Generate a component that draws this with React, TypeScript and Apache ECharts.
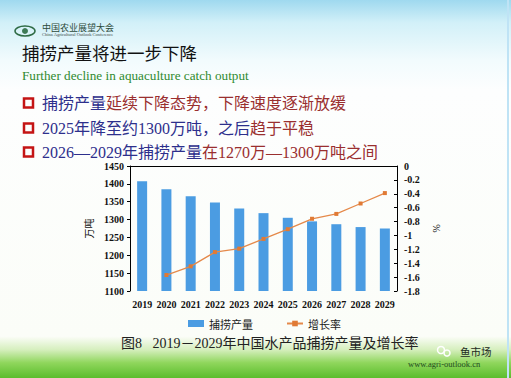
import React, { useEffect, useRef } from "react";
import * as echarts from "echarts";

const years = ["2019", "2020", "2021", "2022", "2023", "2024", "2025", "2026", "2027", "2028", "2029"];
const catchOutput = [1407, 1385, 1365, 1348, 1331, 1318, 1305, 1295, 1287, 1279, 1275];
const growthRate = [null, -1.57, -1.445, -1.24, -1.19, -1.05, -0.91, -0.76, -0.69, -0.54, -0.39];
const seriesNames = ["捕捞产量", "增长率"];

const serif = "'Liberation Serif', 'Times New Roman', 'Noto Sans CJK SC', serif";
const cjk = "'Noto Sans CJK SC', sans-serif";

export default function App() {
  const ref = useRef<HTMLDivElement>(null);
  useEffect(() => {
    const chart = echarts.init(ref.current!, null, { renderer: "svg" });
    const blue = "#2d2f8c";
    const red = "#9a2f2f";
    const rich = {
      b: { fill: blue, fontSize: 16, fontFamily: serif },
      r: { fill: red, fontSize: 16, fontFamily: serif },
    };
    const bullets = [
      "{b|捕捞产量}{r|延续下降态势，下降速度逐渐放缓}",
      "{b|2025年降至约1300万吨，之后}{r|趋于平稳}",
      "{b|2026—2029年捕捞产量}{r|在1270万—1300万吨之间}",
    ];
    const bulletY = [103, 128, 152];
    const graphics: any[] = [
      {
        type: "rect",
        z: -10,
        silent: true,
        shape: { x: 0, y: 0, width: 511, height: 378 },
        style: {
          fill: new echarts.graphic.LinearGradient(0, 0, 0, 1, [
            { offset: 0, color: "#9fd9ef" },
            { offset: 0.06, color: "#d2f0f8" },
            { offset: 0.16, color: "#f2fbfd" },
            { offset: 0.24, color: "#fdfefe" },
            { offset: 0.89, color: "#fbfdf8" },
            { offset: 0.925, color: "#d6efbe" },
            { offset: 0.96, color: "#8fd65c" },
            { offset: 1, color: "#5bbd2c" },
          ]),
        },
      },
      {
        type: "rect",
        z: -9,
        silent: true,
        shape: { x: 507, y: 0, width: 2, height: 378 },
        style: { fill: "#bfe3f5" },
      },
      // logo
      {
        type: "ellipse",
        shape: { cx: 25, cy: 31, rx: 10, ry: 5 },
        style: { fill: "none", stroke: "#2f6b45", lineWidth: 1.5 },
      },
      {
        type: "circle",
        shape: { cx: 25, cy: 31, r: 3 },
        style: { fill: "#3e7a55" },
      },
      {
        type: "text",
        x: 42,
        y: 27,
        style: { text: "中国农业展望大会", fontSize: 9, fill: "#2c4a3a", fontFamily: cjk, verticalAlign: "middle" },
      },
      {
        type: "text",
        x: 42,
        y: 34.5,
        style: { text: "China Agricultural Outlook Conference", fontSize: 4.5, fill: "#3a4a44", fontFamily: serif, verticalAlign: "middle" },
      },
      {
        type: "text",
        x: 22,
        y: 52,
        style: { text: "捕捞产量将进一步下降", fontSize: 17.5, fill: "#111", fontFamily: cjk, verticalAlign: "middle" },
      },
      {
        type: "text",
        x: 22,
        y: 75,
        style: { text: "Further decline in aquaculture catch output", fontSize: 13.2, fill: "#2f8a2f", fontFamily: serif, verticalAlign: "middle" },
      },
      ...bullets.flatMap((t, i) => [
        {
          type: "rect",
          shape: { x: 24, y: bulletY[i] - 4.5, width: 9, height: 9 },
          style: { fill: "none", stroke: "#c41414", lineWidth: 2.5 },
        },
        {
          type: "text",
          x: 42,
          y: bulletY[i],
          style: { text: t, rich, fontSize: 16, fontFamily: serif, verticalAlign: "middle" },
        },
      ]),
      {
        type: "text",
        x: 121,
        y: 343,
        style: { text: "图8   2019－2029年中国水产品捕捞产量及增长率", fontSize: 14, fill: "#222", fontFamily: serif, verticalAlign: "middle" },
      },
      // watermark
      {
        type: "circle",
        shape: { cx: 441, cy: 350, r: 3.5 },
        style: { fill: "none", stroke: "#ffffff", lineWidth: 1.5 },
      },
      {
        type: "circle",
        shape: { cx: 447, cy: 353, r: 3 },
        style: { fill: "none", stroke: "#ffffff", lineWidth: 1.5 },
      },
      {
        type: "text",
        x: 460,
        y: 351,
        style: { text: "鱼市场", fontSize: 10.5, fill: "#1e2a22", fontFamily: cjk, verticalAlign: "middle" },
      },
      {
        type: "text",
        x: 408,
        y: 364,
        style: { text: "www.agri-outlook.cn", fontSize: 8.5, fill: "#1f4a1f", fontFamily: serif, verticalAlign: "middle" },
      },
    ];

    chart.setOption({
      animation: false,
      backgroundColor: "transparent",
      graphic: graphics,
      grid: { left: 130, right: 114, top: 166, bottom: 87 },
      legend: {
        left: 183,
        top: 313,
        itemWidth: 16,
        itemHeight: 7,
        itemGap: 33,
        textStyle: { fontSize: 11, color: "#222", fontFamily: cjk },
        data: [
          { name: seriesNames[0], icon: "rect" },
          { name: seriesNames[1] },
        ],
      },
      xAxis: {
        type: "category",
        data: years,
        axisLine: { lineStyle: { color: "#000", width: 1 } },
        axisTick: { show: false },
        axisLabel: { color: "#111", fontSize: 10, fontWeight: "bold", fontFamily: serif, margin: 8, interval: 0 },
      },
      yAxis: [
        {
          type: "value",
          min: 1100,
          max: 1450,
          interval: 50,
          name: "万吨",
          nameLocation: "middle",
          nameGap: 35,
          nameRotate: 90,
          nameTextStyle: { fontSize: 10, color: "#111", fontFamily: cjk },
          splitLine: { show: false },
          axisLine: { show: true, lineStyle: { color: "#000" } },
          axisTick: { show: true, length: 3, lineStyle: { color: "#000" } },
          axisLabel: {
            color: "#111",
            fontSize: 10,
            fontWeight: "bold",
            fontFamily: serif,
            margin: 6,
            formatter: (v: number) => String(v),
          },
        },
        {
          type: "value",
          min: -1.8,
          max: 0,
          interval: 0.2,
          position: "right",
          name: "%",
          nameLocation: "middle",
          nameGap: 35,
          nameRotate: -90,
          nameTextStyle: { fontSize: 10, color: "#111", fontFamily: serif },
          splitLine: { show: false },
          axisLine: { show: true, lineStyle: { color: "#000" } },
          axisTick: { show: true, inside: true, length: 3, lineStyle: { color: "#000" } },
          axisLabel: {
            color: "#111",
            fontSize: 10,
            fontWeight: "bold",
            fontFamily: serif,
            margin: 7,
            formatter: (v: number) => String(parseFloat(v.toFixed(1))),
          },
        },
      ],
      series: [
        {
          name: seriesNames[0],
          type: "bar",
          data: catchOutput,
          barWidth: 10,
          itemStyle: { color: "#4b9ce2" },
        },
        {
          name: seriesNames[1],
          type: "line",
          yAxisIndex: 1,
          data: growthRate,
          symbol: "rect",
          symbolSize: 4,
          lineStyle: { color: "#e5894a", width: 1.3 },
          itemStyle: { color: "#e07a35" },
        },
      ],
    });
    return () => chart.dispose();
  }, []);
  return <div ref={ref} style={{ position: "absolute", left: 0, top: 0, width: 511, height: 378 }} />;
}
